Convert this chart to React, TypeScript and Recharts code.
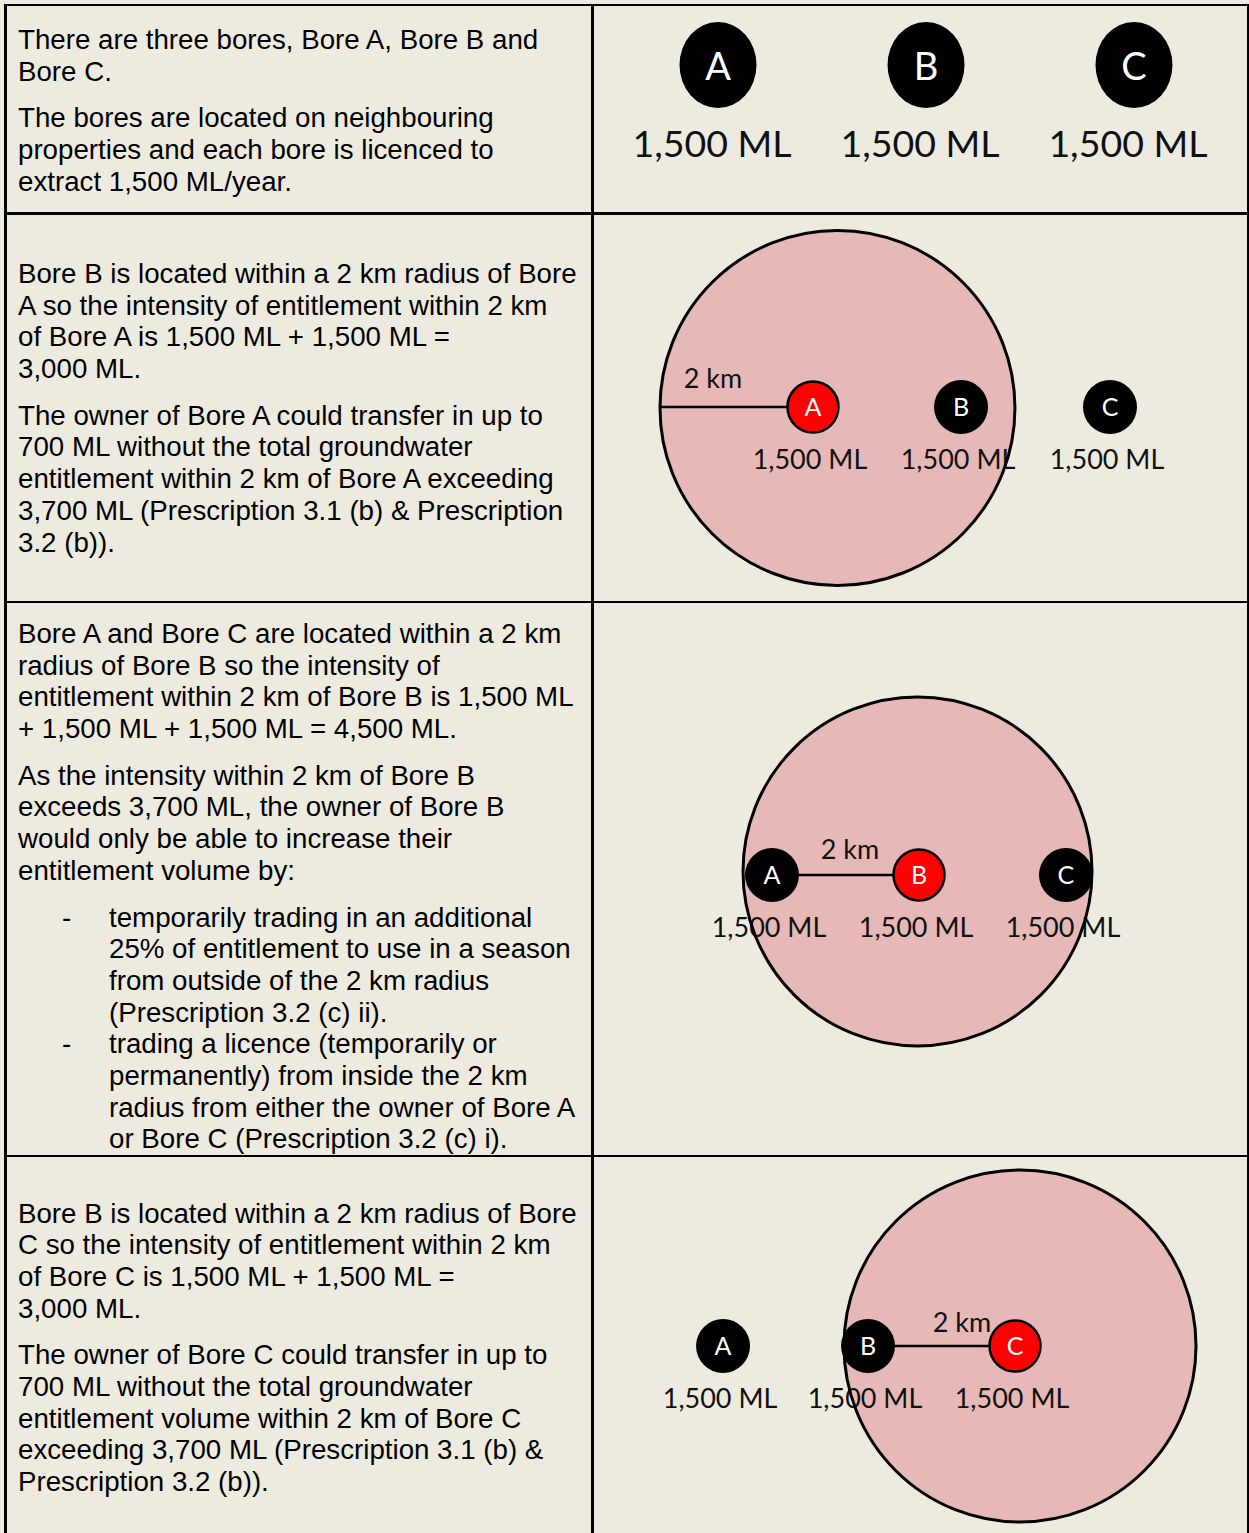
import React from 'react';
import { ScatterChart, Scatter, XAxis, YAxis } from 'recharts';

// ---------- data ----------
const boreNames = ['A', 'B', 'C'];
const licenceML = [1500, 1500, 1500];

// overview row: bore positions (km across the diagram cell)
const overviewBoreX = [1.715, 4.569, 7.422];
const overviewBoreY = 0.823;

// scenario rows (Bore A, Bore B, Bore C in focus)
const scenarioFocus = ['A', 'B', 'C'];
const scenarioBoreX = [
  [3.018, 5.049, 7.093],
  [2.456, 4.473, 6.489],
  [1.784, 3.773, 5.79],
];
const scenarioBoreY = [2.662, 3.745, 2.607];
const circleCenterX = [3.354, 4.452, 5.858];
const circleCenterY = [2.675, 3.697, 2.607];
const circleRadiusKm = [2.435, 2.394, 2.415];
const radiusLineFrom = [0.919, 2.456, 3.773];
const radiusLineTo = [3.018, 4.473, 5.79];
const radiusLabelX = [1.646, 3.526, 5.062];
const radiusLabelY = [2.401, 3.526, 2.415];
const radiusLabelText = '2 km';

// left-column text
const rowTexts: { paras: string[][]; bullets?: string[][] }[] = [
  {
    paras: [
      ['There are three bores, Bore A, Bore B and', 'Bore C.'],
      ['The bores are located on neighbouring', 'properties and each bore is licenced to', 'extract 1,500 ML/year.'],
    ],
  },
  {
    paras: [
      ['Bore B is located within a 2 km radius of Bore', 'A so the intensity of entitlement within 2 km', 'of Bore A is 1,500 ML + 1,500 ML =', '3,000 ML.'],
      ['The owner of Bore A could transfer in up to', '700 ML without the total groundwater', 'entitlement within 2 km of Bore A exceeding', '3,700 ML (Prescription 3.1 (b) & Prescription', '3.2 (b)).'],
    ],
  },
  {
    paras: [
      ['Bore A and Bore C are located within a 2 km', 'radius of Bore B so the intensity of', 'entitlement within 2 km of Bore B is 1,500 ML', '+ 1,500 ML + 1,500 ML = 4,500 ML.'],
      ['As the intensity within 2 km of Bore B', 'exceeds 3,700 ML, the owner of Bore B', 'would only be able to increase their', 'entitlement volume by:'],
    ],
    bullets: [
      ['temporarily trading in an additional', '25% of entitlement to use in a season', 'from outside of the 2 km radius', '(Prescription 3.2 (c) ii).'],
      ['trading a licence (temporarily or', 'permanently) from inside the 2 km', 'radius from either the owner of Bore A', 'or Bore C (Prescription 3.2 (c) i).'],
    ],
  },
  {
    paras: [
      ['Bore B is located within a 2 km radius of Bore', 'C so the intensity of entitlement within 2 km', 'of Bore C is 1,500 ML + 1,500 ML =', '3,000 ML.'],
      ['The owner of Bore C could transfer in up to', '700 ML without the total groundwater', 'entitlement volume within 2 km of Bore C', 'exceeding 3,700 ML (Prescription 3.1 (b) &', 'Prescription 3.2 (b)).'],
    ],
  },
];

// ---------- layout ----------
const PAGE_W = 1249;
const PAGE_H = 1533;
const CHART_LEFT = 593;
const CHART_W = 656;
const X_MAX = 9;
const PPK = CHART_W / X_MAX;
const rowTops = [5, 213, 602, 1156];
const rowHeights = [208, 389, 554, 377];
const textTops = [24, 258, 618, 1197.5];

const BG = '#EDEBE0';
const PINK = '#E6B9B8';
const RED = '#FF0000';
const TEXT_FONT = '"Liberation Sans", Arial, sans-serif';
const DIAG_FONT = 'Lato, "Open Sans", sans-serif';
const FS = 27.7;
const LH = 31.7;
const PGAP = 15;

const fmtML = (v: number) => `${v.toLocaleString('en-US')} ML`;

// ---------- shapes ----------
const Empty = () => <g />;

const CircleFill = (p: any) => (
  <circle cx={p.cx} cy={p.cy} r={p.payload.r * PPK} fill={PINK} />
);
const CircleOutline = (p: any) => (
  <circle cx={p.cx} cy={p.cy} r={p.payload.r * PPK} fill="none" stroke="#000" strokeWidth={3} />
);
const VolumeLabel = (p: any) => (
  <text x={p.cx - 3} y={p.cy + 62} textAnchor="middle" fontFamily={DIAG_FONT} fontSize={27} fill="#111">
    {fmtML(p.payload.ml)}
  </text>
);
const BigVolumeLabel = (p: any) => (
  <text x={p.cx - 6} y={p.cy + 92} textAnchor="middle" fontFamily={DIAG_FONT} fontSize={37.5} fill="#111">
    {fmtML(p.payload.ml)}
  </text>
);
const RadiusLabel = (p: any) => (
  <text x={p.cx} y={p.cy} textAnchor="middle" fontFamily={DIAG_FONT} fontSize={27} fill="#111">
    {p.payload.text}
  </text>
);
const BoreDot = (p: any) => (
  <g>
    <circle
      cx={p.cx}
      cy={p.cy}
      r={p.payload.focus ? 25.5 : 27}
      fill={p.payload.focus ? RED : '#000'}
      stroke="#000"
      strokeWidth={p.payload.focus ? 2.5 : 0}
    />
    <text x={p.cx} y={p.cy + 9} textAnchor="middle" fontFamily={DIAG_FONT} fontSize={25} fill="#fff">
      {p.payload.name}
    </text>
  </g>
);
const BigBore = (p: any) => (
  <g>
    <ellipse cx={p.cx} cy={p.cy} rx={38.5} ry={43} fill="#000" />
    <text x={p.cx} y={p.cy + 15} textAnchor="middle" fontFamily={DIAG_FONT} fontSize={38} fill="#fff">
      {p.payload.name}
    </text>
  </g>
);

// ---------- charts ----------
const axes = (h: number) => [
  <XAxis key="x" type="number" dataKey="x" domain={[0, X_MAX]} allowDataOverflow hide />,
  <YAxis key="y" type="number" dataKey="y" domain={[0, h / PPK]} allowDataOverflow reversed hide />,
];

function OverviewChart() {
  const h = rowHeights[0];
  const bores = boreNames.map((n, k) => ({ x: overviewBoreX[k], y: overviewBoreY, name: n, ml: licenceML[k] }));
  return (
    <ScatterChart width={CHART_W} height={h} margin={{ top: 0, right: 0, bottom: 0, left: 0 }}>
      {axes(h)}
      <Scatter data={bores} shape={BigVolumeLabel} isAnimationActive={false} />
      <Scatter data={bores} shape={BigBore} isAnimationActive={false} />
    </ScatterChart>
  );
}

function ScenarioChart({ i }: { i: number }) {
  const h = rowHeights[i + 1];
  const by = scenarioBoreY[i];
  const bores = boreNames.map((n, k) => ({
    x: scenarioBoreX[i][k],
    y: by,
    name: n,
    ml: licenceML[k],
    focus: n === scenarioFocus[i],
  }));
  const circle = [{ x: circleCenterX[i], y: circleCenterY[i], r: circleRadiusKm[i] }];
  const radius = [
    { x: radiusLineFrom[i], y: by },
    { x: radiusLineTo[i], y: by },
  ];
  const label = [{ x: radiusLabelX[i], y: radiusLabelY[i], text: radiusLabelText }];
  return (
    <ScatterChart width={CHART_W} height={h} margin={{ top: 0, right: 0, bottom: 0, left: 0 }}>
      {axes(h)}
      <Scatter data={circle} shape={CircleFill} isAnimationActive={false} />
      <Scatter data={bores} shape={VolumeLabel} isAnimationActive={false} />
      <Scatter data={circle} shape={CircleOutline} isAnimationActive={false} />
      <Scatter data={radius} line={{ stroke: '#000', strokeWidth: 2.5 }} shape={Empty} isAnimationActive={false} />
      <Scatter data={label} shape={RadiusLabel} isAnimationActive={false} />
      <Scatter data={bores} shape={BoreDot} isAnimationActive={false} />
    </ScatterChart>
  );
}

// ---------- text ----------
function Lines({ lines }: { lines: string[] }) {
  return (
    <>
      {lines.map((l, k) => (
        <div key={k} style={{ height: LH, whiteSpace: 'nowrap' }}>
          {l}
        </div>
      ))}
    </>
  );
}

function TextCell({ r }: { r: number }) {
  const t = rowTexts[r];
  return (
    <div
      style={{
        position: 'absolute',
        left: 18,
        top: textTops[r],
        width: 570,
        fontFamily: TEXT_FONT,
        fontSize: FS,
        lineHeight: `${LH}px`,
        color: '#000',
      }}
    >
      {t.paras.map((p, k) => (
        <div key={k} style={{ marginTop: k === 0 ? 0 : PGAP }}>
          <Lines lines={p} />
        </div>
      ))}
      {t.bullets && (
        <div style={{ marginTop: PGAP }}>
          {t.bullets.map((b, k) => (
            <div key={k} style={{ position: 'relative', paddingLeft: 91 }}>
              <div style={{ position: 'absolute', left: 44, top: 0 }}>-</div>
              <Lines lines={b} />
            </div>
          ))}
        </div>
      )}
    </div>
  );
}

const HLine = ({ y, h = 2.5 }: { y: number; h?: number }) => (
  <div style={{ position: 'absolute', left: 4, top: y, width: PAGE_W - 4, height: h, background: '#000' }} />
);
const VLine = ({ x, w = 2.5 }: { x: number; w?: number }) => (
  <div style={{ position: 'absolute', left: x, top: 4, width: w, height: PAGE_H - 4, background: '#000' }} />
);

export default function App() {
  return (
    <div
      style={{
        position: 'absolute',
        left: 0,
        top: 0,
        width: PAGE_W,
        height: PAGE_H,
        background: BG,
        overflow: 'hidden',
      }}
    >
      {rowTexts.map((_, r) => (
        <TextCell key={r} r={r} />
      ))}
      <div style={{ position: 'absolute', left: CHART_LEFT, top: rowTops[0] }}>
        <OverviewChart />
      </div>
      {[0, 1, 2].map((i) => (
        <div key={i} style={{ position: 'absolute', left: CHART_LEFT, top: rowTops[i + 1] }}>
          <ScenarioChart i={i} />
        </div>
      ))}
      <HLine y={4} h={2} />
      <HLine y={212} />
      <HLine y={601} h={2} />
      <HLine y={1155} h={2} />
      <VLine x={4} />
      <VLine x={591} />
      <VLine x={1247} w={2} />
    </div>
  );
}
